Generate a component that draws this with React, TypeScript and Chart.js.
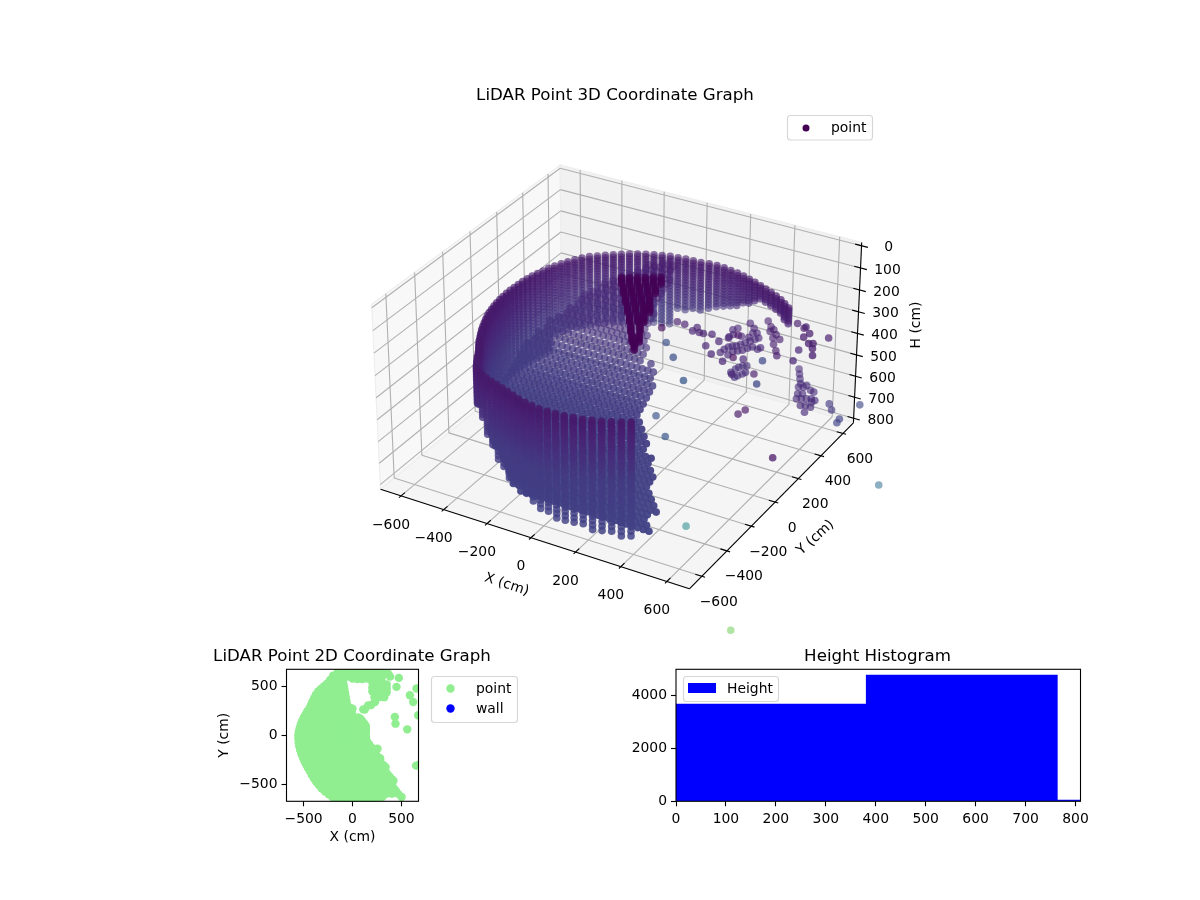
import { useEffect, useRef } from 'react';
import { Chart, registerables } from 'chart.js';

Chart.register(...registerables);

const FONT = '"DejaVu Sans"';
const TICK_PX = 13.9;

// axes of the 3D view
const xTicks = [-600, -400, -200, 0, 200, 400, 600];
const yTicks = [-600, -400, -200, 0, 200, 400, 600];
const hTicks = [0, 100, 200, 300, 400, 500, 600, 700, 800];
const planLimit = 697;
const hLimits = [-15, 822];

// wall columns of the scan: azimuth (deg), reach (cm), lowest height (cm)
const wallAzimuths = [45, 48, 51, 54, 57, 60, 63, 66, 69, 72, 75, 78, 81, 84, 87, 90, 93, 96, 99, 102, 105, 108, 111, 114, 117, 120, 123, 126, 129, 132, 135, 138, 141, 144, 147, 150, 153, 156, 159, 162, 165, 168, 171, 174, 177, 180, 183, 186, 189, 192, 195, 198, 201, 204, 207, 210, 213, 216, 219, 222, 225, 228, 231, 234, 237, 240, 243, 246, 249, 252, 255, 258, 261, 264, 267, 270, 273, 276, 279, 282, 285, 288, 291, 294, 297, 300, 303];
const wallReach = [690, 686, 684, 680, 676, 672, 670, 668, 668, 668, 668, 667, 667, 665, 660, 652, 650, 650, 650, 650, 648, 646, 645, 642, 640, 636, 634, 632, 630, 630, 625, 618, 612, 605, 600, 593, 585, 580, 575, 570, 565, 560, 556, 553, 550, 548, 546, 545, 544, 543, 543, 543, 543, 544, 546, 549, 552, 556, 562, 567, 573, 583, 597, 610, 626, 636, 638, 638, 638, 638, 640, 645, 652, 660, 667, 674, 680, 684, 688, 692, 695, 698, 700, 702, 703, 704, 704];
const wallBottom = [320, 312, 305, 300, 300, 305, 310, 335, 355, 375, 395, 415, 430, 445, 458, 468, 475, 480, 486, 560, 560, 560, 560, 560, 560, 560, 560, 560, 560, 560, 560, 560, 560, 560, 560, 640, 640, 640, 640, 640, 640, 640, 640, 640, 640, 640, 640, 640, 620, 600, 580, 563, 563, 563, 563, 563, 555, 545, 530, 510, 497, 475, 458, 440, 415, 390, 440, 497, 540, 577, 605, 628, 635, 640, 665, 685, 693, 700, 708, 717, 721, 725, 731, 737, 744, 750, 760];
const scanLevels = [240, 252, 264, 276, 288, 300, 312, 325, 338, 351, 364, 377, 391, 405, 419, 433, 448, 463, 478, 493, 509, 525, 541, 558, 575, 592, 610, 628, 647, 666, 686, 706, 727, 748, 770];

// footprint seen from above: azimuth (deg) and how far the points go there (cm)
const planAzimuths = [-76, -72, -68, -64, -60, -56, -52, -48, -44, -40, -36, -32, -28, -24, -20, -16, -12, -8, -4, 0, 4, 8, 12, 16, 20, 24, 28, 32, 36, 40, 44, 48, 52, 56, 60, 64, 68, 72, 76, 80, 84, 88, 92, 96, 100, 104, 108, 112, 116, 120, 124, 128, 132, 136, 140, 144, 148, 152, 156, 160, 164, 168, 172, 176, 180, 184, 188, 192, 196, 200, 204, 208, 212, 216, 220, 224, 228, 232, 236, 240, 244, 248, 252, 256, 260, 264, 268, 272, 276, 280, 284];
const planReach = [700, 700, 700, 700, 690, 720, 760, 626, 470, 370, 280, 225, 190, 165, 150, 141, 135, 135, 135, 135, 135, 135, 138, 141, 145, 150, 155, 160, 165, 165, 167, 167, 170, 175, 180, 185, 190, 191, 175, 165, 163, 190, 235, 285, 650, 650, 640, 610, 590, 580, 574, 570, 560, 545, 535, 525, 520, 522, 525, 530, 535, 540, 545, 550, 554, 555, 556, 556, 556, 556, 556, 558, 560, 565, 570, 580, 590, 602, 615, 630, 640, 650, 665, 680, 700, 700, 700, 700, 700, 700, 700];
const planRings = [0, 40, 80, 120, 160, 200, 240, 280, 320, 360, 400, 440, 480, 520, 560, 600, 640, 680, 720, 760];
const planBlobX = [-150, -100, -50, 0, 50, 100, 150, 200, 250, 300, -100, -50, 0, 50, 100, 150, 200, 250, 300, -150, -100, -50, 0, 50, 100, 150, 200, 250, 300, 203, 250, 300, 350, 203, 250, 300, 350, 203, 250, 300, 350, 225, 275, 325, 230, 190, 365, 474, 450, 385, 433, 440, 560, 587, 655, 621, 672, 672, 650, 256, 0, 126, 502, 160, 110];
const planBlobY = [680, 680, 680, 680, 680, 680, 680, 680, 680, 660, 640, 640, 640, 640, 640, 640, 640, 640, 640, 600, 600, 600, 580, 575, 575, 580, 590, 590, 590, 540, 540, 540, 520, 490, 490, 490, 480, 450, 450, 450, 440, 390, 390, 390, 340, 310, 631, 587, 495, 600, 188, 119, 61, 410, 478, 341, 205, -307, -310, -137, 273, 263, -631, 305, 265];
const planTicks = [-500, 0, 500];

// interior floor of the scan: rows of Y with their height and left end, columns of X
const floorRowY = [-525, -500, -475, -450, -425, -400, -375, -350, -325, -300, -275, -250, -225, -200, -175, -150, -125, -100, -75, -50, -25, 0, 25, 50, 75, 100, 125, 150, 175, 200, 225, 250, 275, 300, 325, 350, 375, 400, 425, 450, 475, 500, 525, 550, 575, 600, 625, 650, 675, 700];
const floorRowH = [750, 745, 739, 733, 727, 720, 713, 706, 698, 690, 681, 672, 661, 650, 638, 625, 613, 600, 588, 575, 563, 550, 535, 520, 505, 490, 473, 455, 438, 420, 408, 395, 383, 370, 360, 350, 340, 330, 320, 310, 300, 290, 283, 275, 268, 260, 255, 250, 245, 240];
const floorRowStart = [-150, -200, -230, -260, -290, -320, -345, -375, -400, -430, -470, -520, -700, -700, -700, -700, -700, -700, -700, -700, -700, -700, -700, -700, -700, -700, -700, -700, -700, -700, -700, -700, -700, -700, -700, -700, -700, -700, -700, -700, -700, -700, -700, -700, -700, -700, -700, -700, -700, -700];
const floorColX = [-700, -675, -650, -625, -600, -575, -550, -525, -500, -475, -450, -425, -400, -375, -350, -325, -300, -275, -250, -225, -200, -175, -150, -125, -100, -75, -50, -25, 0, 25, 50, 75, 100, 125, 150, 175, 200, 225, 250, 275, 300, 325, 350, 375, 400, 425, 450, 475, 500, 525, 550, 575, 600, 625, 650, 675, 700];
const floorInset = 30;

// the dense patch close to the sensor
const nearX = [-133, -106, -79, -52, -24, 3, -87, -60, -33, -5, 22, -41, -13, 14, 41, 5, 32, 60, 80, 51, 79, 99, 94, 125, 137, 161, 175];
const nearY = [233, 249, 265, 281, 296, 312, 169, 185, 201, 217, 232, 105, 121, 136, 152, 41, 56, 72, 84, -23, -8, 4, -89, -72, -155, -142, -205];
const nearLevels = [150, 160, 170, 180];

// scattered returns
const sparseX = [21, 57, 111, 114, 141, 159, 192, 215, 266, 244, 333, 262, 413, -10, 65, 148, 272, 67, 178, 533, 468, 573, 553, 613, 450, 491, 348, 358, 624, 742, 720, 724, 631, 661,
  210, 211, 217, 227, 241, 250, 260, 271, 282, 333, 246, 250, 265, 279, 289, 301, 328, 165, 177, 186, 206, 221, 202, 235, 264, 289, 249, 251, 182, 274, 316,
  243, 247, 252, 260, 275, 280, 290, 295, 331, 275,
  257, 289, 311, 304, 339, 338, 369, 366, 399, 421, 571, 608, 656, 600, 641, 697, 672,
  396, 416, 436, 457, 461, 479, 483, 500, 484, 516, 534, 497, 514, 532, 549, 568, 535, 553, 577, 574, 563,
  1009, 973, 494];
const sparseY = [418, 415, 383, 416, 385, 386, 398, 303, 255, 360, 226, 414, 153, 344, 247, 156, 16, 164, 42, 136, 309, 370, 458, 605, 650, 628, 341, 384, 113, 653, 511, 480, 598, 559,
  439, 470, 495, 510, 518, 539, 560, 582, 604, 555, 437, 471, 485, 500, 524, 544, 538, 631, 652, 596, 601, 600, 714, 685, 656, 623, 647, 608, 561, 429, 437,
  471, 504, 523, 542, 550, 460, 482, 501, 506, 443,
  768, 732, 715, 695, 652, 683, 655, 606, 563, 529, 480, 439, 374, 403, 365, 288, 337,
  789, 754, 719, 684, 656, 666, 606, 616, 685, 657, 651, 567, 578, 588, 598, 593, 528, 538, 536, 488, 575,
  285, -885, -356];
const sparseH = [400, 400, 400, 400, 400, 400, 400, 400, 400, 400, 400, 400, 400, 400, 400, 400, 400, 700, 700, 400, 400, 400, 400, 400, 400, 400, 700, 700, 700, 700, 700, 700, 700, 700,
  500, 500, 500, 500, 500, 500, 500, 500, 500, 500, 500, 500, 500, 500, 500, 500, 500, 500, 500, 500, 500, 500, 500, 500, 500, 500, 500, 500, 500, 500, 500,
  600, 600, 600, 600, 600, 600, 600, 600, 600, 600,
  500, 500, 500, 500, 500, 500, 500, 500, 500, 500, 300, 300, 300, 300, 300, 300, 300,
  700, 700, 700, 700, 700, 700, 700, 700, 700, 700, 700, 700, 700, 700, 700, 700, 700, 700, 700, 700, 700,
  800, 800, 800];
const sparseTone = [0.08, 0.08, 0.09, 0.09, 0.09, 0.09, 0.09, 0.1, 0.1, 0.1, 0.1, 0.1, 0.1, 0.02, 0.25, 0.24, 0.27, 0.25, 0.27, 0.22, 0.22, 0.1, 0.1, 0.07, 0.07, 0.07, 0.05, 0.05, 0.05, 0.22, 0.2, 0.2, 0.17, 0.17,
  0.11, 0.11, 0.11, 0.11, 0.11, 0.11, 0.11, 0.11, 0.11, 0.11, 0.11, 0.11, 0.11, 0.11, 0.11, 0.11, 0.11, 0.1, 0.1, 0.1, 0.03, 0.1, 0.1, 0.1, 0.1, 0.1, 0.1, 0.1, 0.1, 0.03, 0.1,
  0.13, 0.13, 0.13, 0.13, 0.13, 0.13, 0.13, 0.13, 0.05, 0.13,
  0.08, 0.08, 0.08, 0.08, 0.08, 0.08, 0.08, 0.08, 0.08, 0.08, 0.08, 0.08, 0.08, 0.08, 0.08, 0.08, 0.08,
  0.12, 0.12, 0.12, 0.12, 0.12, 0.12, 0.12, 0.12, 0.12, 0.12, 0.12, 0.12, 0.12, 0.12, 0.12, 0.12, 0.12, 0.12, 0.12, 0.12, 0.12,
  0.36, 0.78, 0.47];

// histogram
const heightBinCenters = [190.75, 572.25, 953.75];
const heightBinWidth = 381.5;
const heightCounts = [3672, 4766, 50];
const histTicksX = [0, 100, 200, 300, 400, 500, 600, 700, 800];
const histTicksY = [0, 2000, 4000];

// tone along the height of the scan
const toneHeights = [0, 240, 500, 800];
const toneValues = [0, 0.07, 0.17, 0.2];

const viridis = [[68, 1, 84], [72, 36, 117], [65, 68, 135], [53, 95, 141], [42, 120, 142], [33, 145, 140], [34, 168, 132], [68, 191, 112], [122, 209, 81], [189, 223, 38], [253, 231, 37]];

function viridisAt(t: number) {
  const p = Math.max(0, Math.min(0.999, t)) * 10;
  const i = Math.floor(p);
  const f = p - i;
  return viridis[i].map((c, k) => c + (viridis[i + 1][k] - c) * f);
}

function toneOf(h: number) {
  for (let i = 1; i < toneHeights.length; i++) {
    if (h <= toneHeights[i]) {
      const f = (h - toneHeights[i - 1]) / (toneHeights[i] - toneHeights[i - 1]);
      return toneValues[i - 1] + (toneValues[i] - toneValues[i - 1]) * f;
    }
  }
  return toneValues[toneValues.length - 1];
}

// same camera as mplot3d, elev 30 azim -60
function project(X: number, Y: number, H: number) {
  const nx = (X / planLimit) * 0.595;
  const ny = (Y / planLimit) * 0.595;
  const nz = 0.357 * (1 - (2 * (H - hLimits[0])) / (hLimits[1] - hLimits[0]));
  const cx = 0.866 * nx + 0.5 * ny;
  const cy = -0.25 * nx + 0.433 * ny + 0.866 * nz;
  const depth = 0.433 * nx - 0.75 * ny + 0.5 * nz;
  const f = 2980 / (10 - depth);
  return { x: 621.5 + cx * f, y: 365 - cy * f, depth };
}

function insidePlan(x: number, y: number, inset: number) {
  let az = (Math.atan2(y, x) * 180) / Math.PI;
  if (az < planAzimuths[0]) az += 360;
  const i = Math.min(planAzimuths.length - 1, Math.round((az - planAzimuths[0]) / 4));
  return Math.hypot(x, y) <= planReach[i] - inset;
}

function planFan() {
  const out: { x: number; y: number }[] = [];
  planAzimuths.forEach((az, i) => {
    const a = (az * Math.PI) / 180;
    const rs = planRings.filter((r) => r < planReach[i]).concat(planReach[i]);
    rs.forEach((r) => out.push({ x: r * Math.cos(a), y: r * Math.sin(a) }));
  });
  return out;
}

function buildCloud() {
  const pts: { X: number; Y: number; H: number; tone: number; alpha?: number }[] = [];
  wallAzimuths.forEach((az, i) => {
    const a = (az * Math.PI) / 180;
    scanLevels
      .filter((h) => h <= wallBottom[i])
      .forEach((h) => {
        pts.push({ X: wallReach[i] * Math.cos(a), Y: wallReach[i] * Math.sin(a), H: h, tone: toneOf(h) });
      });
  });
  floorRowY.forEach((y, r) => {
    floorColX.forEach((x) => {
      const h = floorRowH[r];
      const alpha = Math.max(0.45, Math.min(0.95, 0.45 + ((h - 300) / 300) * 0.5));
      if (x >= floorRowStart[r] && insidePlan(x, y, floorInset)) pts.push({ X: x, Y: y, H: h, tone: toneOf(h), alpha });
    });
  });
  nearX.forEach((x, i) => {
    nearLevels.forEach((h) => pts.push({ X: x, Y: nearY[i], H: h, tone: 0 }));
  });
  sparseX.forEach((x, i) => {
    pts.push({ X: x, Y: sparseY[i], H: sparseH[i], tone: sparseTone[i] });
  });
  const projected = pts.map((p) => ({ ...project(p.X, p.Y, p.H), tone: p.tone, alpha: p.alpha }));
  projected.sort((a, b) => a.depth - b.depth);
  const colors = projected.map((p) => {
    const n = Math.max(0, Math.min(1, (p.depth + 0.75) / 1.5));
    const [r, g, b] = viridisAt(p.tone);
    const alpha = p.tone > 0.3 ? 0.55 : p.alpha ?? 0.5 + 0.45 * n;
    return `rgba(${Math.round(r)},${Math.round(g)},${Math.round(b)},${alpha.toFixed(3)})`;
  });
  return { data: projected.map((p) => ({ x: p.x, y: p.y })), colors };
}

function line3d(a: number[], b: number[], color: string, width: number, order = 2) {
  return {
    data: [project(a[0], a[1], a[2]), project(b[0], b[1], b[2])].map((p) => ({ x: p.x, y: p.y })),
    showLine: true,
    pointRadius: 0,
    borderColor: color,
    borderWidth: width,
    order,
  };
}

function frameDatasets() {
  const L = planLimit;
  const top = hLimits[0];
  const bot = hLimits[1];
  const grid = 'rgb(176,176,176)';
  const out: any[] = [];
  xTicks.forEach((t) => {
    out.push(line3d([t, -L, bot], [t, L, bot], grid, 1.1));
    out.push(line3d([t, L, bot], [t, L, top], grid, 1.1));
  });
  yTicks.forEach((t) => {
    out.push(line3d([L, t, bot], [-L, t, bot], grid, 1.1));
    out.push(line3d([-L, t, bot], [-L, t, top], grid, 1.1));
  });
  hTicks.forEach((t) => {
    out.push(line3d([-L, -L, t], [-L, L, t], grid, 1.1));
    out.push(line3d([-L, L, t], [L, L, t], grid, 1.1));
  });
  out.push(line3d([-L, -L, bot], [L, -L, bot], '#000', 1.1, 1));
  out.push(line3d([L, -L, bot], [L, L, bot], '#000', 1.1, 1));
  out.push(line3d([L, L, bot], [L, L, top], '#000', 1.1, 1));
  xTicks.forEach((t) => out.push(line3d([t, -L - 14, bot], [t, -L + 28, bot], '#000', 1.1, 1)));
  yTicks.forEach((t) => out.push(line3d([L + 14, t, bot], [L - 28, t, bot], '#000', 1.1, 1)));
  hTicks.forEach((t) => out.push(line3d([L + 28, L, t], [L - 28, L, t], '#000', 1.1, 1)));
  return out;
}

function drawText(ctx: CanvasRenderingContext2D, text: string, x: number, y: number, size = TICK_PX, rotate = 0) {
  ctx.save();
  ctx.translate(x, y);
  ctx.rotate((rotate * Math.PI) / 180);
  ctx.font = `${size}px ${FONT}`;
  ctx.fillStyle = '#000';
  ctx.textAlign = 'center';
  ctx.textBaseline = 'middle';
  ctx.fillText(text, 0, 0.8);
  ctx.restore();
}

function legendBox(ctx: CanvasRenderingContext2D, x: number, y: number, w: number, h: number) {
  ctx.save();
  ctx.beginPath();
  ctx.roundRect(x, y, w, h, 3);
  ctx.fillStyle = 'rgba(255,255,255,0.8)';
  ctx.fill();
  ctx.strokeStyle = 'rgba(204,204,204,0.8)';
  ctx.lineWidth = 1.1;
  ctx.stroke();
  ctx.restore();
}

function legendDot(ctx: CanvasRenderingContext2D, x: number, y: number, r: number, color: string, label: string, tx: number) {
  ctx.save();
  ctx.fillStyle = color;
  ctx.beginPath();
  ctx.arc(x, y, r, 0, Math.PI * 2);
  ctx.fill();
  ctx.font = `${TICK_PX}px ${FONT}`;
  ctx.fillStyle = '#000';
  ctx.textAlign = 'left';
  ctx.textBaseline = 'middle';
  ctx.fillText(label, tx, y + 0.8);
  ctx.restore();
}

const frame3dPlugin = {
  id: 'frame3d',
  beforeDatasetsDraw(chart: any) {
    const ctx = chart.ctx;
    const L = planLimit;
    const top = hLimits[0];
    const bot = hLimits[1];
    const panes: [number[][], string][] = [
      [[[-L, -L, bot], [-L, L, bot], [-L, L, top], [-L, -L, top]], '#f8f8f8'],
      [[[-L, L, bot], [L, L, bot], [L, L, top], [-L, L, top]], '#f1f1f1'],
      [[[-L, -L, bot], [L, -L, bot], [L, L, bot], [-L, L, bot]], '#f5f5f5'],
    ];
    panes.forEach(([corners, color]) => {
      ctx.save();
      ctx.beginPath();
      corners.forEach((c, i) => {
        const p = project(c[0], c[1], c[2]);
        const px = chart.scales.x.getPixelForValue(p.x);
        const py = chart.scales.y.getPixelForValue(p.y);
        if (i === 0) ctx.moveTo(px, py);
        else ctx.lineTo(px, py);
      });
      ctx.closePath();
      ctx.fillStyle = color;
      ctx.fill();
      ctx.strokeStyle = '#ededed';
      ctx.lineWidth = 1.1;
      ctx.stroke();
      ctx.restore();
    });
  },
  afterDraw(chart: any) {
    const ctx = chart.ctx;
    const L = planLimit;
    const bot = hLimits[1];
    const at = (p: { x: number; y: number }, dx: number, dy: number) => [
      chart.scales.x.getPixelForValue(p.x) + dx,
      chart.scales.y.getPixelForValue(p.y) + dy,
    ];
    const minus = (t: number) => String(t).replace('-', '\u2212');
    xTicks.forEach((t) => {
      const [x, y] = at(project(t, -L, bot), -10, 28.2);
      drawText(ctx, minus(t), x, y);
    });
    yTicks.forEach((t) => {
      const [x, y] = at(project(L, t, bot), 17, 25.2);
      drawText(ctx, minus(t), x, y);
    });
    hTicks.forEach((t) => {
      const [x, y] = at(project(L, L, t), 27, 1.2);
      drawText(ctx, minus(t), x, y);
    });
    drawText(ctx, 'X (cm)', 507, 584, TICK_PX, 18);
    drawText(ctx, 'Y (cm)', 815, 537, TICK_PX, -42);
    drawText(ctx, 'H (cm)', 916, 325, TICK_PX, -90);
    drawText(ctx, 'LiDAR Point 3D Coordinate Graph', 615, 95, 16.67);
    legendBox(ctx, 787.5, 115.5, 85, 24.5);
    legendDot(ctx, 806, 128, 3.5, '#440154', 'point', 831);
  },
};

const framedPlugin = {
  id: 'framed',
  afterDraw(chart: any, _args: any, opts: any) {
    const ctx = chart.ctx;
    const a = chart.chartArea;
    ctx.save();
    ctx.strokeStyle = '#000';
    ctx.lineWidth = 1.1;
    ctx.strokeRect(a.left, a.top, a.right - a.left, a.bottom - a.top);
    ctx.restore();
    drawText(ctx, opts.title, opts.titleX, 656, 16.67);
    if (opts.kind === 'plan') {
      legendBox(ctx, 431.5, 676.5, 86, 46);
      legendDot(ctx, 450.5, 688.5, 4.2, '#90ee90', 'point', 476);
      legendDot(ctx, 450.5, 708.5, 4.2, '#0000ff', 'wall', 476);
    } else {
      legendBox(ctx, 683.5, 676.5, 95, 25);
      ctx.save();
      ctx.fillStyle = '#0000ff';
      ctx.fillRect(688, 683, 28, 10);
      ctx.font = `${TICK_PX}px ${FONT}`;
      ctx.fillStyle = '#000';
      ctx.textBaseline = 'middle';
      ctx.fillText('Height', 727, 689.3);
      ctx.restore();
    }
  },
};

function axisBase(size: number, horizontal: boolean, values: number[]) {
  return {
    type: 'linear',
    offset: false,
    afterFit: (s: any) => {
      if (horizontal) s.height = size;
      else s.width = size;
    },
    afterBuildTicks: (s: any) => {
      s.ticks = values.map((value) => ({ value }));
    },
    border: { display: false },
    grid: { display: true, drawOnChartArea: false, drawTicks: true, tickLength: 5, tickColor: '#000', tickWidth: 1.1, offset: false },
    ticks: {
      color: '#000',
      font: { family: FONT, size: TICK_PX },
      padding: horizontal ? 5 : 4,
      maxRotation: 0,
      minRotation: 0,
      autoSkip: false,
      callback: (v: any) => String(v).replace('-', '\u2212'),
    },
  };
}

const canvasStyle: React.CSSProperties = { position: 'absolute', left: 0, top: 0 };

export default function App() {
  const cloudRef = useRef<HTMLCanvasElement | null>(null);
  const planRef = useRef<HTMLCanvasElement | null>(null);
  const histRef = useRef<HTMLCanvasElement | null>(null);

  useEffect(() => {
    document.body.style.margin = '0';
    if (!cloudRef.current || !planRef.current || !histRef.current) return;
    const cloud = buildCloud();

    const cloudChart = new Chart(cloudRef.current, {
      type: 'scatter',
      data: {
        datasets: [
          {
            label: 'point',
            data: cloud.data,
            pointRadius: 3.8,
            pointBorderWidth: 0,
            pointBackgroundColor: cloud.colors,
            order: 0,
          },
          ...frameDatasets(),
        ],
      },
      options: {
        animation: false,
        responsive: false,
        events: [],
        layout: { padding: 0 },
        plugins: { legend: { display: false }, tooltip: { enabled: false } },
        scales: {
          x: { type: 'linear', min: 0, max: 1200, display: false },
          y: { type: 'linear', min: 0, max: 900, reverse: true, display: false },
        },
      },
      plugins: [frame3dPlugin],
    } as any);

    const planPoints = planFan().concat(planBlobX.map((x, i) => ({ x, y: planBlobY[i] })));
    const planChart = new Chart(planRef.current, {
      type: 'scatter',
      data: {
        datasets: [
          { label: 'point', data: planPoints, pointRadius: 4.2, pointBorderWidth: 0, pointBackgroundColor: '#90ee90' },
          { label: 'wall', data: [], pointRadius: 4.2, pointBackgroundColor: '#0000ff' },
        ],
      },
      options: {
        animation: false,
        responsive: false,
        events: [],
        layout: { padding: { left: 216.5, right: 781.5, top: 669.3, bottom: 48.7 } },
        plugins: {
          legend: { display: false },
          tooltip: { enabled: false },
          framed: { kind: 'plan', title: 'LiDAR Point 2D Coordinate Graph', titleX: 352 },
        },
        scales: {
          x: {
            ...axisBase(50, true, planTicks),
            min: -675,
            max: 675,
            title: { display: true, text: 'X (cm)', color: '#000', font: { family: FONT, size: TICK_PX }, padding: { top: 0, bottom: 6 } },
          },
          y: {
            ...axisBase(70, false, planTicks),
            min: -675,
            max: 675,
            title: { display: true, text: 'Y (cm)', color: '#000', font: { family: FONT, size: TICK_PX }, padding: 0 },
          },
        },
      },
      plugins: [framedPlugin],
    } as any);

    const histChart = new Chart(histRef.current, {
      type: 'bar',
      data: {
        datasets: [
          {
            label: 'Height',
            data: heightBinCenters.map((x, i) => ({ x, y: heightCounts[i] })),
            backgroundColor: '#0000ff',
            borderWidth: 0,
            barThickness: (heightBinWidth / 810) * 404.5 + 0.6,
          },
        ],
      },
      options: {
        animation: false,
        responsive: false,
        events: [],
        layout: { padding: { left: 616, right: 119.5, top: 669.3, bottom: 58.7 } },
        plugins: {
          legend: { display: false },
          tooltip: { enabled: false },
          framed: { kind: 'hist', title: 'Height Histogram', titleX: 877.5 },
        },
        scales: {
          x: { ...axisBase(40, true, histTicksX), min: 0, max: 810 },
          y: { ...axisBase(60, false, histTicksY), min: 0, max: 4981 },
        },
      },
      plugins: [framedPlugin],
    } as any);

    return () => {
      cloudChart.destroy();
      planChart.destroy();
      histChart.destroy();
    };
  }, []);

  return (
    <div style={{ position: 'relative', width: 1200, height: 900, background: '#fff', overflow: 'hidden' }}>
      <canvas ref={cloudRef} width={1200} height={900} style={canvasStyle} />
      <canvas ref={planRef} width={1200} height={900} style={canvasStyle} />
      <canvas ref={histRef} width={1200} height={900} style={canvasStyle} />
    </div>
  );
}
